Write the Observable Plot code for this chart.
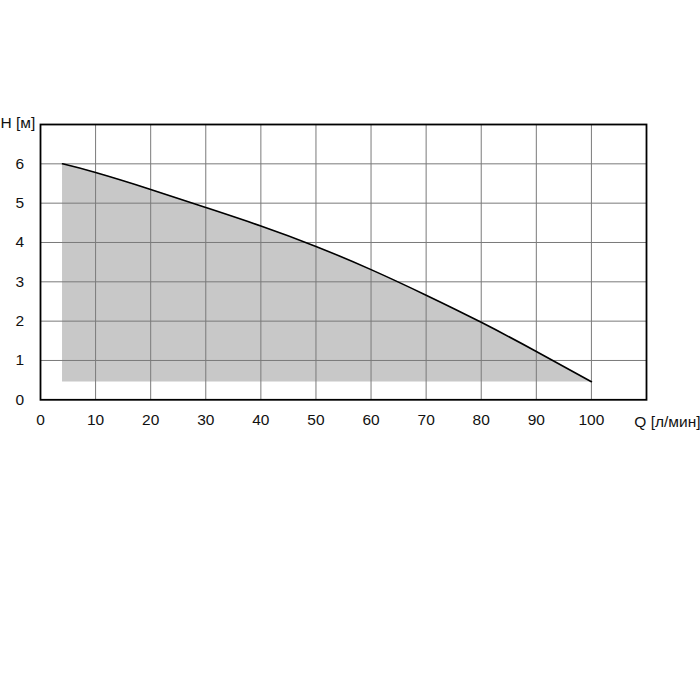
<!DOCTYPE html>
<html>
<head>
<meta charset="utf-8">
<script src="https://cdn.jsdelivr.net/npm/d3@7"></script>
<script src="https://cdn.jsdelivr.net/npm/@observablehq/plot@0.6"></script>
<style>
  html, body { margin: 0; padding: 0; background: #fff; }
  #chart svg { display: block; }
</style>
</head>
<body>
<div id="chart"></div>
<script>
// Data
const flowQ = [4, 10, 20, 30, 40, 50, 60, 70, 80, 90, 100];          // л/мин
const headH = [6.0, 5.78, 5.35, 4.89, 4.42, 3.90, 3.31, 2.66, 1.97, 1.23, 0.46]; // м
const baseH = 0.45;
const xTicks = [0, 10, 20, 30, 40, 50, 60, 70, 80, 90, 100];
const yTicks = [0, 1, 2, 3, 4, 5, 6];
const xGrid = [10, 20, 30, 40, 50, 60, 70, 80, 90, 100];
const yGrid = [1, 2, 3, 4, 5, 6];
const xLabel = "Q [л/мин]";
const yLabel = "H [м]";

const data = flowQ.map((q, i) => ({Q: q, H: headH[i]}));

const font = "'Liberation Sans', Arial, sans-serif";

const chart = Plot.plot({
  width: 700,
  height: 700,
  marginLeft: 40,
  marginRight: 54,
  marginTop: 124,
  marginBottom: 300.7,
  style: {fontFamily: font, fontSize: "15px", color: "#111", background: "#fff"},
  x: {domain: [0, 110]},
  y: {domain: [0, 7]},
  marks: [
    Plot.areaY(data, {x: "Q", y1: baseH, y2: "H", curve: "natural", fill: "#c8c8c8"}),
    Plot.ruleX(xGrid, {stroke: "#7a7a7a", strokeWidth: 1}),
    Plot.ruleY(yGrid, {stroke: "#7a7a7a", strokeWidth: 1}),
    Plot.line(data, {x: "Q", y: "H", curve: "natural", stroke: "#000", strokeWidth: 1.6}),
    Plot.frame({stroke: "#000", strokeWidth: 1.8}),
    Plot.axisX(xTicks, {tickSize: 0, tickPadding: 14, label: null, fontSize: 15.5}),
    Plot.axisY(yTicks, {tickSize: 0, tickPadding: 16.5, label: null, fontSize: 15.5}),
    Plot.text([yLabel], {frameAnchor: "top-left", dx: -40, dy: -1, textAnchor: "start", fontSize: 15.5, lineAnchor: "middle"}),
    Plot.text([xLabel], {frameAnchor: "bottom-right", dx: 54, dy: 22, textAnchor: "end", fontSize: 15.5, lineAnchor: "middle"})
  ]
});
document.getElementById("chart").append(chart);
</script>
</body>
</html>
